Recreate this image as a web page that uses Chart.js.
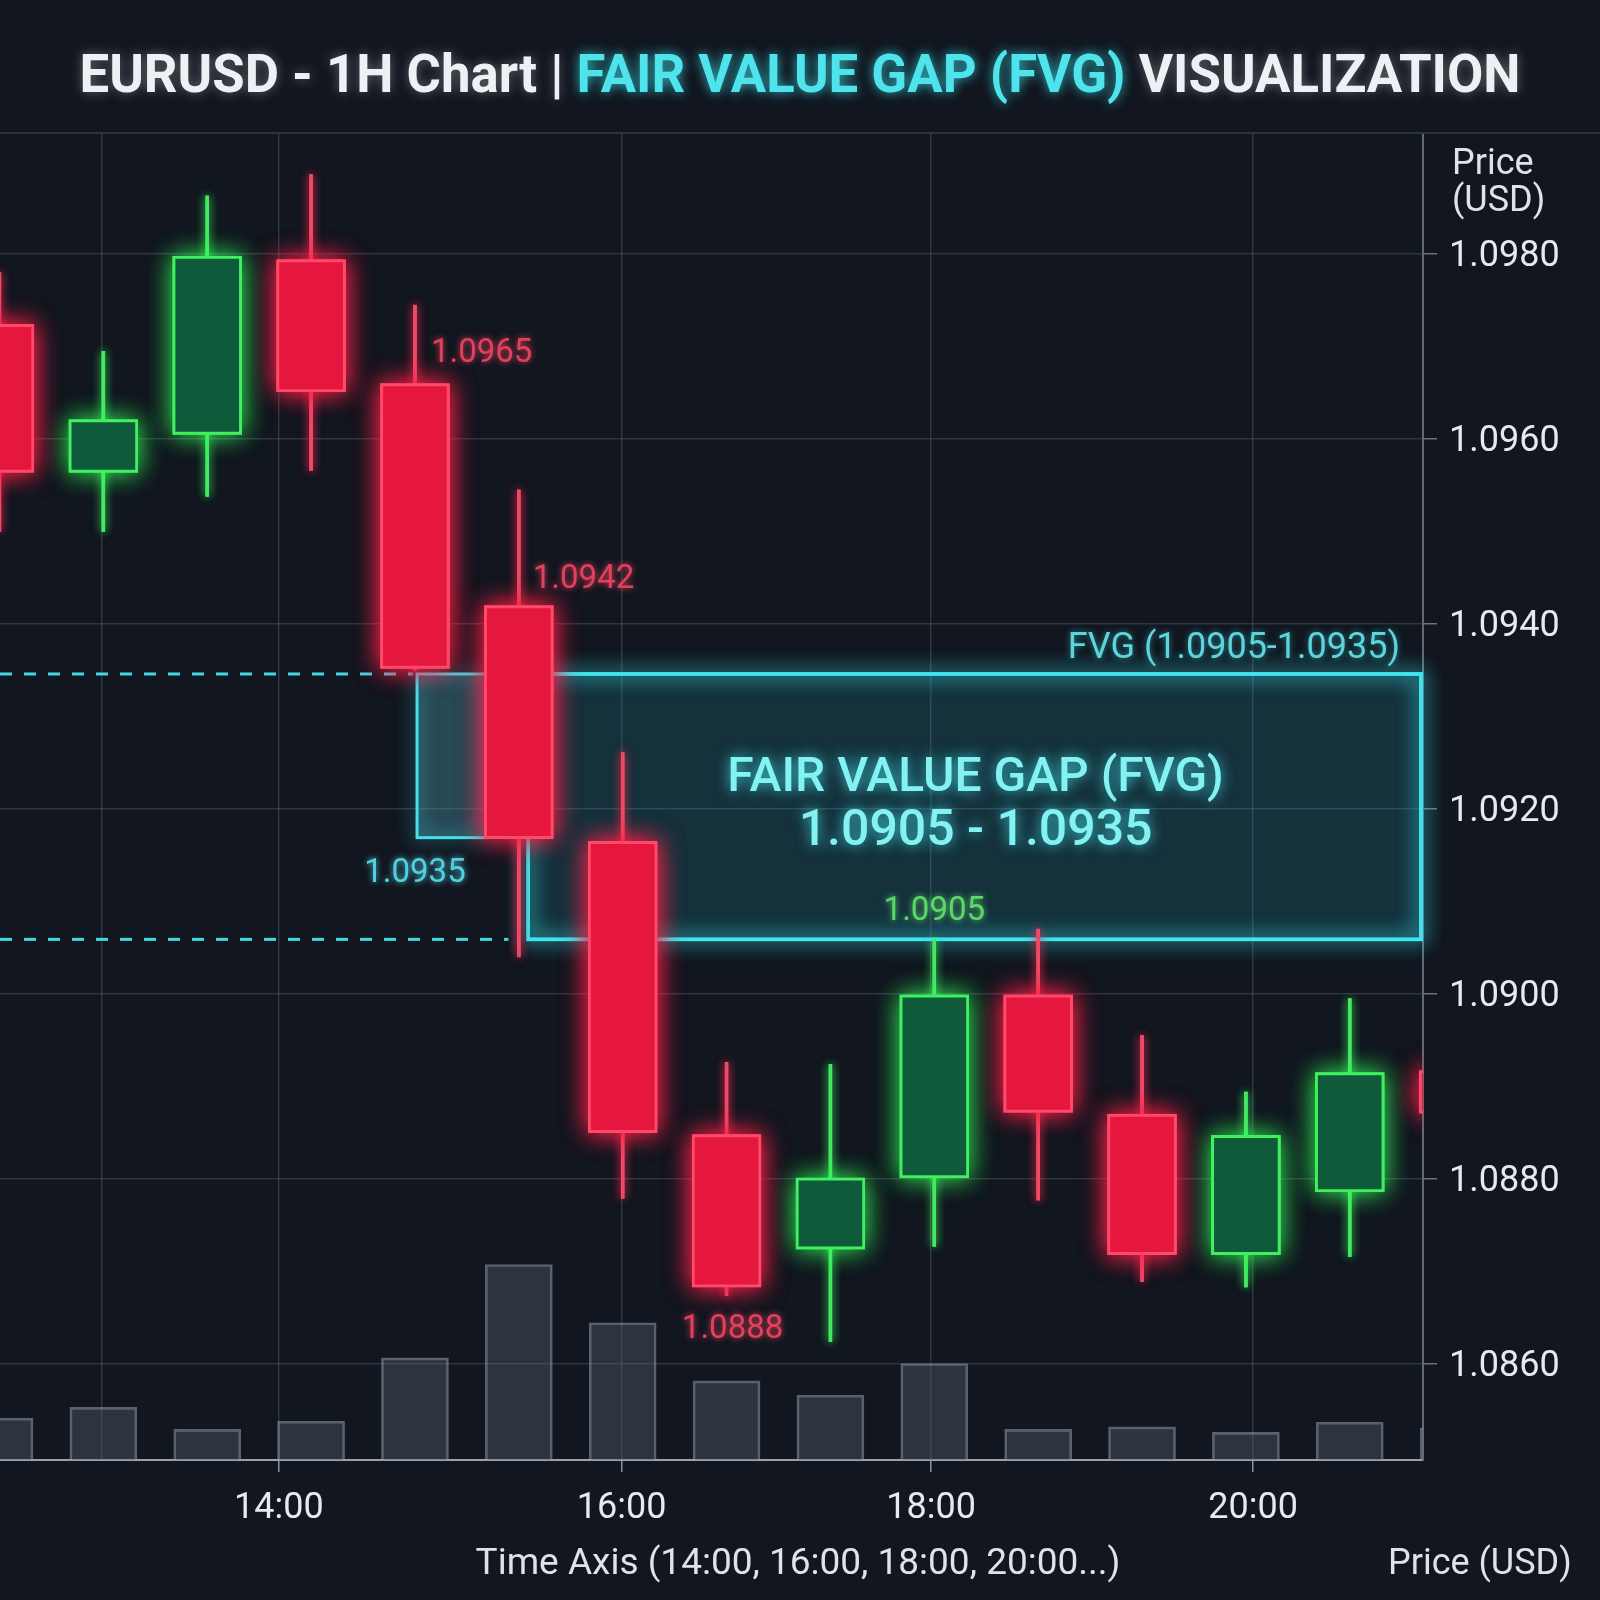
<!DOCTYPE html>
<html>
<head>
<meta charset="utf-8">
<title>EURUSD 1H - Fair Value Gap</title>
<script src="https://cdn.jsdelivr.net/npm/chart.js@4.4.1/dist/chart.umd.min.js"></script>
<style>
  html, body { margin: 0; padding: 0; background: #11161f; }
  #wrap { width: 1600px; height: 1600px; }
</style>
</head>
<body>
<div id="wrap"><canvas id="fvgChart" width="1600" height="1600"></canvas></div>
<script>
// hourly candles, index 0 is the bar cut off at the left edge
var opens   = [1.09724, 1.09564, 1.09605, 1.09794, 1.0966, 1.0942, 1.09165, 1.08848, 1.08724, 1.08801, 1.08999, 1.0887, 1.08718, 1.08786, 1.08917];
var highs   = [1.0978, 1.09695, 1.09863, 1.09886, 1.09745, 1.09545, 1.09261, 1.08926, 1.08924, 1.09059, 1.0907, 1.08955, 1.08894, 1.08995, 1.0895];
var lows    = [1.0950, 1.0950, 1.09538, 1.09566, 1.0935, 1.0904, 1.08779, 1.08674, 1.08624, 1.08727, 1.08777, 1.08689, 1.08683, 1.08716, 1.0884];
var closes  = [1.09564, 1.09621, 1.09798, 1.09651, 1.09352, 1.09168, 1.0885, 1.08683, 1.08801, 1.08999, 1.08872, 1.08718, 1.08847, 1.08915, 1.08871];
var volumes = [820, 1030, 600, 760, 2000, 3830, 2690, 1550, 1270, 1890, 600, 650, 540, 740, 630];

// time axis ticks (in candle index units) and labels
var timeTickPos    = [0.98, 2.69, 5.99, 8.97, 12.07];
var timeTickLabels = ['', '14:00', '16:00', '18:00', '20:00'];
var priceTicks     = [1.0860, 1.0880, 1.0900, 1.0920, 1.0940, 1.0960, 1.0980];

// fair value gap zone and guides
var fvgZone   = { from: 5.09, to: 13.72, low: 1.09059, high: 1.09346 };
var fvgText   = ['1.0905', '1.0935'];
var gapCandle = { from: 4.02, to: 4.70, low: 1.09169, high: 1.09346 };
var guideLevels = [1.09346, 1.09059];
var guideEnds   = [3.98, 4.90];

// price notes: candle index, anchor price, text
var noteIdx    = [4, 5, 4, 9, 7];
var notePrice  = [1.0966, 1.0942, 1.09169, 1.09059, 1.08674];
var noteText   = ['1.0965', '1.0942', '1.0935', '1.0905', '1.0888'];

var RED = '#e6173f', RED_EDGE = '#ff4968', GREEN = '#0f5a3b', GREEN_EDGE = '#3ff05f';
var noteStyle = [
  { color: '#e2405c', dx: 16, dy: -30, align: 'left' },
  { color: '#e2405c', dx: 14, dy: -26, align: 'left' },
  { color: '#52cfe0', dx: 0,  dy: 36,  align: 'center' },
  { color: '#5cd86a', dx: 0,  dy: -28, align: 'center' },
  { color: '#e2405c', dx: 6,  dy: 34,  align: 'center' }
];

var idx = opens.map(function (o, i) { return i; });
function isUp(i) { return closes[i] >= opens[i]; }
var upIdx = idx.filter(isUp);
var downIdx = idx.filter(function (i) { return !isUp(i); });

function wick(i) { return { x: i, y: [lows[i], highs[i]] }; }
function body(i) { return { x: i, y: [opens[i], closes[i]] }; }

var glowPlugin = {
  id: 'fvgDecor',
  beforeDraw: function (chart) {
    var c = chart.ctx;
    c.save();
    c.fillStyle = '#11161f';
    c.fillRect(0, 0, chart.width, chart.height);
    c.restore();
  },
  beforeDatasetsDraw: function (chart) {
    var c = chart.ctx, x = chart.scales.x, y = chart.scales.y, a = chart.chartArea;
    c.save();
    // top border of the plot
    c.strokeStyle = '#2c3340';
    c.lineWidth = 2;
    c.beginPath(); c.moveTo(0, a.top); c.lineTo(chart.width, a.top); c.stroke();

    // dashed guides to the gap
    c.strokeStyle = '#46d6df';
    c.lineWidth = 3;
    c.setLineDash([12, 12]);
    guideLevels.forEach(function (lv, k) {
      var py = y.getPixelForValue(lv);
      c.beginPath(); c.moveTo(a.left, py); c.lineTo(x.getPixelForValue(guideEnds[k]), py); c.stroke();
    });
    c.setLineDash([]);

    // main FVG box
    var l = x.getPixelForValue(fvgZone.from), r = Math.min(x.getPixelForValue(fvgZone.to), a.right) - 2;
    var t = y.getPixelForValue(fvgZone.high), b = y.getPixelForValue(fvgZone.low);
    c.fillStyle = 'rgba(35,160,178,0.2)';
    c.fillRect(l, t, r - l, b - t);
    c.shadowColor = 'rgba(60,230,240,0.9)';
    c.shadowBlur = 20;
    c.strokeStyle = '#3fe4ee';
    c.lineWidth = 3.5;
    c.strokeRect(l, t, r - l, b - t);
    c.strokeRect(l, t, r - l, b - t);

    // small gap box next to the big red candle
    l = x.getPixelForValue(gapCandle.from); r = x.getPixelForValue(gapCandle.to);
    t = y.getPixelForValue(gapCandle.high); b = y.getPixelForValue(gapCandle.low);
    c.shadowBlur = 0;
    c.fillStyle = 'rgba(80,165,185,0.35)';
    c.fillRect(l, t, r - l, b - t);
    c.shadowBlur = 18;
    c.strokeStyle = '#45e0ea';
    c.lineWidth = 3;
    c.strokeRect(l, t, r - l, b - t);
    c.restore();
  },
  // soft neon halo behind each candle element
  beforeDatasetDraw: function (chart, args) {
    var ds = chart.data.datasets[args.index];
    if (!ds.glow) return;
    var c = chart.ctx, a = chart.chartArea;
    c.save();
    c.beginPath();
    c.rect(a.left, a.top, a.right - a.left, a.bottom - a.top);
    c.clip();
    c.shadowColor = ds.glow;
    c.fillStyle = ds.borderColor || ds.backgroundColor;
    args.meta.data.forEach(function (el) {
      var p = el.getProps(['x', 'y', 'base', 'width'], true);
      var top = Math.min(p.y, p.base), h = Math.abs(p.y - p.base);
      c.shadowBlur = ds.glowSize;
      c.fillRect(p.x - p.width / 2, top, p.width, h);
      c.fillRect(p.x - p.width / 2, top, p.width, h);
    });
    c.restore();
  },
  afterDatasetsDraw: function (chart) {
    var c = chart.ctx, x = chart.scales.x, y = chart.scales.y, a = chart.chartArea;
    c.save();
    c.textBaseline = 'middle';

    // price notes
    c.font = '33px Roboto';
    noteText.forEach(function (txt, k) {
      var s = noteStyle[k];
      c.fillStyle = s.color;
      c.textAlign = s.align;
      c.shadowColor = s.color;
      c.shadowBlur = 6;
      c.fillText(txt, x.getPixelForValue(noteIdx[k]) + s.dx, y.getPixelForValue(notePrice[k]) + s.dy);
    });

    // zone labels
    var r = Math.min(x.getPixelForValue(fvgZone.to), a.right);
    var t = y.getPixelForValue(fvgZone.high), b = y.getPixelForValue(fvgZone.low);
    c.font = '36px Roboto';
    c.textAlign = 'right';
    c.fillStyle = '#5fd4db';
    c.shadowColor = 'rgba(60,220,230,0.6)';
    c.fillText('FVG (' + fvgText[0] + '-' + fvgText[1] + ')', r - 23, t - 25);

    var cx = (x.getPixelForValue(fvgZone.from) + r) / 2, cy = (t + b) / 2;
    c.textAlign = 'center';
    c.fillStyle = '#84f1f2';
    c.shadowColor = 'rgba(70,235,240,0.9)';
    c.shadowBlur = 14;
    c.font = '500 48px Roboto';
    c.fillText('FAIR VALUE GAP (FVG)', cx, cy - 28);
    c.font = '500 50px Roboto';
    c.fillText(fvgText[0] + ' - ' + fvgText[1], cx, cy + 26);
    c.restore();
  },
  afterDraw: function (chart) {
    var c = chart.ctx;
    c.save();
    c.textBaseline = 'middle';

    // two-colour title squeezed to the reference width
    var parts = [['EURUSD - 1H Chart | ', '#eef1f4', 'rgba(255,255,255,0.35)'],
                 ['FAIR VALUE GAP (FVG)', '#4fe3ec', 'rgba(60,230,240,0.8)'],
                 [' VISUALIZATION', '#eef1f4', 'rgba(255,255,255,0.35)']];
    c.font = 'bold 54px Roboto';
    var total = 0;
    parts.forEach(function (p) { total += c.measureText(p[0]).width; });
    var target = 1441, sx = target / total;
    c.translate(800 - target / 2, 78);
    c.scale(sx, 1);
    var px = 0;
    c.textAlign = 'left';
    parts.forEach(function (p) {
      c.fillStyle = p[1];
      c.shadowColor = p[2];
      c.shadowBlur = 12;
      c.fillText(p[0], px, 0);
      px += c.measureText(p[0]).width;
    });
    c.restore();

    c.save();
    c.textBaseline = 'middle';
    c.fillStyle = '#dfe3e8';
    c.font = '36px Roboto';
    c.textAlign = 'left';
    c.fillText('Price', 1452, 165);
    c.fillText('(USD)', 1452, 202);
    c.fillText('Price (USD)', 1388, 1565);
    c.font = '37px Roboto';
    c.textAlign = 'center';
    c.fillText('Time Axis (14:00, 16:00, 18:00, 20:00...)', 798, 1565);
    c.restore();
  }
};

var ctx = document.getElementById('fvgChart').getContext('2d');
var fvgChart = new Chart(ctx, {
  type: 'bar',
  data: {
    datasets: [
      {
        label: 'Volume',
        data: idx.map(function (i) { return { x: i, y: volumes[i] }; }),
        yAxisID: 'yv',
        barThickness: 67,
        backgroundColor: 'rgba(92,103,119,0.38)',
        borderColor: 'rgba(150,160,175,0.55)',
        borderWidth: 2,
        grouped: false,
        order: 10
      },
      {
        label: 'Down wicks',
        data: downIdx.map(wick),
        barThickness: 3,
        backgroundColor: '#ee4a66',
        glow: 'rgba(255,40,80,0.8)',
        glowSize: 10,
        grouped: false,
        order: 5
      },
      {
        label: 'Up wicks',
        data: upIdx.map(wick),
        barThickness: 3,
        backgroundColor: '#46e862',
        glow: 'rgba(60,255,100,0.7)',
        glowSize: 10,
        grouped: false,
        order: 5
      },
      {
        label: 'Down candles',
        data: downIdx.map(body),
        barThickness: 69,
        backgroundColor: RED,
        borderColor: RED_EDGE,
        borderWidth: 3,
        borderSkipped: false,
        glow: 'rgba(255,30,70,0.8)',
        glowSize: 26,
        grouped: false,
        order: 1
      },
      {
        label: 'Up candles',
        data: upIdx.map(body),
        barThickness: 69,
        backgroundColor: GREEN,
        borderColor: GREEN_EDGE,
        borderWidth: 3,
        borderSkipped: false,
        glow: 'rgba(50,255,90,0.6)',
        glowSize: 26,
        grouped: false,
        order: 1
      }
    ]
  },
  options: {
    responsive: false,
    animation: false,
    layout: { padding: { top: 133, left: 0, right: 0, bottom: 0 } },
    plugins: {
      legend: { display: false },
      tooltip: { enabled: false },
      title: { display: false }
    },
    scales: {
      x: {
        type: 'linear',
        min: 0.005,
        max: 13.705,
        offset: false,
        afterFit: function (scale) { scale.height = 140; },
        afterBuildTicks: function (scale) {
          scale.ticks = timeTickPos.map(function (v) { return { value: v }; });
        },
        grid: {
          offset: false,
          color: 'rgba(125,135,155,0.28)',
          lineWidth: 1.5,
          tickLength: 12,
          tickColor: function (c) { return timeTickLabels[c.index] ? '#8a919c' : 'rgba(0,0,0,0)'; }
        },
        border: { display: true, color: '#9aa1ab', width: 2 },
        ticks: {
          autoSkip: false,
          maxRotation: 0,
          padding: 15,
          color: '#e6e9ed',
          font: { family: 'Roboto', size: 36 },
          callback: function (v, i) { return timeTickLabels[i]; }
        }
      },
      y: {
        type: 'linear',
        position: 'right',
        min: 1.08496,
        max: 1.09931,
        afterFit: function (scale) { scale.width = 177; },
        afterBuildTicks: function (scale) {
          scale.ticks = priceTicks.map(function (v) { return { value: v }; });
        },
        grid: {
          color: 'rgba(125,135,155,0.28)',
          lineWidth: 1.5,
          tickLength: 14,
          tickColor: '#6b7280'
        },
        border: { display: true, color: '#626a77', width: 2 },
        ticks: {
          padding: 12,
          labelOffset: 3,
          color: '#e6e9ed',
          font: { family: 'Roboto', size: 36 },
          callback: function (v) { return Number(v).toFixed(4); }
        }
      },
      yv: {
        type: 'linear',
        display: false,
        min: 0,
        max: 26000,
        grid: { display: false }
      }
    }
  },
  plugins: [glowPlugin]
});
</script>
</body>
</html>
